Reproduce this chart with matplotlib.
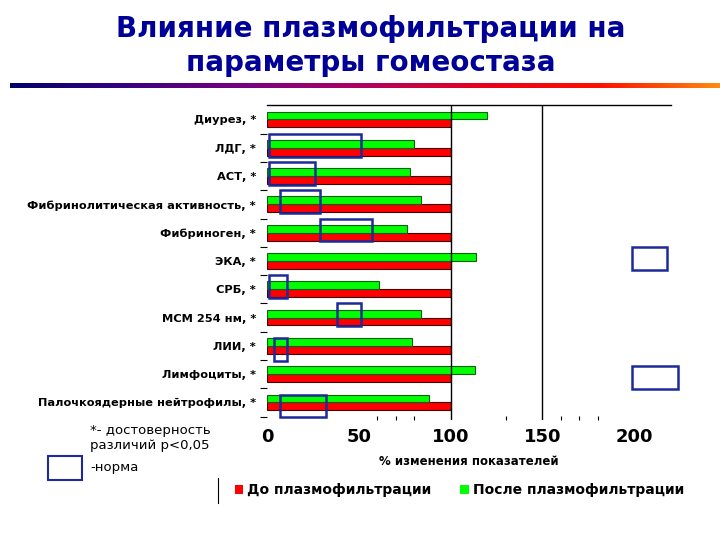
import numpy as np
import matplotlib
matplotlib.use("Agg")
import matplotlib.pyplot as plt
from matplotlib.patches import Rectangle
from matplotlib.colors import LinearSegmentedColormap
from matplotlib.lines import Line2D

plt.rcParams['font.family'] = ['DejaVu Sans']

# данные
categories = ["Диурез, *", "ЛДГ, *", "АСТ, *", "Фибринолитическая активность, *",
              "Фибриноген, *", "ЭКА, *", "СРБ, *", "МСМ 254 нм, *", "ЛИИ, *",
              "Лимфоциты, *", "Палочкоядерные нейтрофилы, *"]
before = [100, 100, 100, 100, 100, 100, 100, 100, 100, 100, 100]
after = [120, 80, 78, 84, 76, 114, 61, 84, 79, 113, 88]
# границы нормы (%), None - нет рамки
norm_lo = [None, 1, 1, 7, 29, 199, 1, 38, 4, 199, 7]
norm_hi = [None, 51, 26, 29, 57, 218, 11, 51, 11, 224, 32]

title = "Влияние плазмофильтрации на\nпараметры гомеостаза"
xticks = [0, 50, 100, 150, 200]

fig = plt.figure(figsize=(7.2, 5.4), dpi=100)

# заголовок
fig.text(0.515, 0.915, title, ha='center', va='center', fontsize=20,
         fontweight='bold', color='#000099', linespacing=1.3)

# градиентная линия
gax = fig.add_axes([10/720, 1-88.5/540, 710/720, 6/540])
cmap = LinearSegmentedColormap.from_list(
    'grad', ['#00006a', '#3a0080', '#7a0080', '#b00060', '#e8001c', '#ff1000', '#ff8a10'])
gax.imshow(np.linspace(0, 1, 512)[None, :], aspect='auto', cmap=cmap)
gax.axis('off')

ax = fig.add_axes([267/720, 1-420/540, 404/720, (420-105.3)/540])
y = np.arange(len(categories))
h = 0.28
ax.barh(y + h/2, before, height=h, color='#ff0000', edgecolor='#400000', lw=0.8,
        label='До плазмофильтрации')
ax.barh(y - h/2, after, height=h, color='#00ff00', edgecolor='#106010', lw=0.8,
        label='После плазмофильтрации')

ax.axvline(100, color='black', lw=1)
ax.axvline(150, color='black', lw=1)

# рамки нормы
for i in range(len(categories)):
    if norm_lo[i] is None:
        continue
    top = i - 0.5 if i < 8 else i - 0.28
    r = Rectangle((norm_lo[i], top), norm_hi[i] - norm_lo[i], 0.81,
                  fill=False, edgecolor='#1c2a9a', lw=1.8, zorder=5, clip_on=False)
    ax.add_patch(r)

ax.set_xlim(0, 220)
ax.set_ylim(10.62, -0.5)
ax.set_yticks(y)
ax.set_yticklabels(categories, fontsize=8.2, fontweight='bold')
ax.set_yticks(np.arange(len(categories)) + 0.5, minor=True)
ax.tick_params(axis='y', which='major', length=0, pad=8)
ax.tick_params(axis='y', which='minor', length=5, width=0.8)
ax.set_xticks(xticks)
ax.set_xticklabels([str(t) for t in xticks], fontsize=13, fontweight='bold')
ax.set_xticks([60, 70, 80, 130, 160, 170, 180], minor=True)
ax.tick_params(axis='x', which='major', length=0, pad=6)
ax.tick_params(axis='x', which='minor', length=3, direction='in', width=0.8)
ax.set_xlabel('% изменения показателей', fontsize=8.5, fontweight='bold', labelpad=6)
for s in ['left', 'right', 'bottom']:
    ax.spines[s].set_visible(False)
ax.spines['top'].set_linewidth(1)

# пояснения слева
fig.text(90/720, 1-438/540, "*- достоверность\nразличий р<0,05", fontsize=9.5,
         va='center', ha='left', linespacing=1.2)
fig.patches.append(Rectangle((48/720, 1-480/540), 34/720, 24/540, fill=False,
                             edgecolor='#1c2a9a', lw=1.5, transform=fig.transFigure))
fig.text(90/720, 1-467/540, "-норма", fontsize=9.5, va='center', ha='left')

# легенда
fig.lines.append(Line2D([218/720, 218/720], [1-478/540, 1-503/540], color='black',
                        lw=0.8, transform=fig.transFigure))
handles, labels = ax.get_legend_handles_labels()
leg = fig.legend(handles, labels, loc='center left', bbox_to_anchor=(222/720, 1-490/540),
                 ncol=2, frameon=False, handlelength=0.6, handleheight=0.6,
                 handletextpad=0.3, columnspacing=2.1,
                 prop={'size': 10, 'weight': 'bold'})
for p in leg.get_patches():
    p.set_edgecolor('none')

fig.savefig('out.png', dpi=100)
